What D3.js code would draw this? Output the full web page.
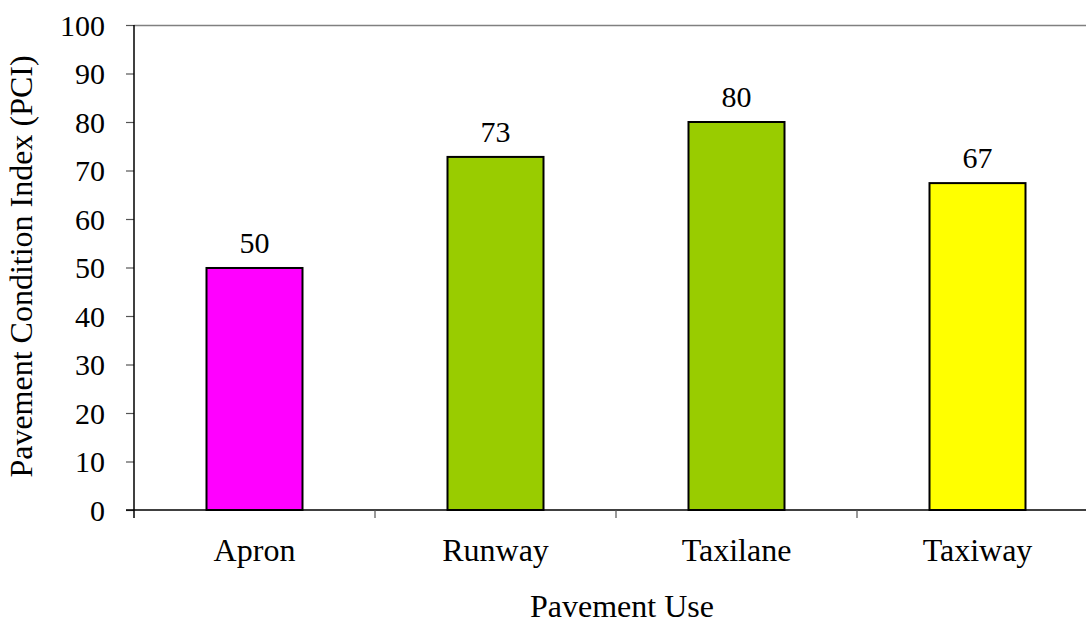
<!DOCTYPE html>
<html>
<head>
<meta charset="utf-8">
<script src="https://cdn.jsdelivr.net/npm/d3@7"></script>
<style>
  body { margin: 0; background: #fff; }
  text { font-family: "Liberation Serif", "Times New Roman", serif; fill: #000; }
</style>
</head>
<body>
<svg id="chart" width="1086" height="623"></svg>
<script>
// chart data
const categories = ["Apron", "Runway", "Taxilane", "Taxiway"];
const pciValues = [49.9, 72.8, 80.0, 67.4];
const valueLabels = ["50", "73", "80", "67"];
const barColors = ["#ff00ff", "#99cc00", "#99cc00", "#ffff00"];
const yTicks = [0, 10, 20, 30, 40, 50, 60, 70, 80, 90, 100];

const margin = {top: 25, left: 134, bottom: 113};
const svg = d3.select("#chart");
const plotW = 964, plotH = 485;
const fsNum = "30px", fsWord = "32px";

const g = svg.append("g").attr("transform", `translate(${margin.left},${margin.top})`);

const x = d3.scaleBand().domain(categories).range([0, plotW]).paddingInner(0).paddingOuter(0);
const y = d3.scaleLinear().domain([0, 100]).range([plotH, 0]);

// top border of the plot area
g.append("line")
  .attr("x1", 0).attr("x2", plotW + 10)
  .attr("y1", 0.5).attr("y2", 0.5)
  .attr("stroke", "#808080").attr("stroke-width", 1.3);

// y axis
const yAxis = g.append("g")
  .call(d3.axisLeft(y).tickValues(yTicks).tickSize(8).tickPadding(21));
yAxis.select(".domain").remove();
yAxis.selectAll(".tick line").attr("stroke", "#555").attr("stroke-width", 1.2);
yAxis.selectAll("text").style("font-size", fsNum).attr("dy", "0.34em");
g.append("line")
  .attr("x1", 0).attr("x2", 0).attr("y1", 0).attr("y2", plotH + 8)
  .attr("stroke", "#000").attr("stroke-width", 1.5);

// x axis: ticks at category boundaries
const xAxis = g.append("g").attr("transform", `translate(0,${plotH})`);
xAxis.append("line")
  .attr("x1", -8).attr("x2", plotW).attr("y1", 0).attr("y2", 0)
  .attr("stroke", "#000").attr("stroke-width", 1.5);
xAxis.selectAll(".bound")
  .data(categories.slice(1))
  .join("line")
  .attr("x1", d => x(d)).attr("x2", d => x(d))
  .attr("y1", 0).attr("y2", 8)
  .attr("stroke", "#555").attr("stroke-width", 1.2);
xAxis.selectAll(".cat")
  .data(categories)
  .join("text")
  .attr("x", d => x(d) + x.bandwidth() / 2)
  .attr("y", 51)
  .attr("text-anchor", "middle")
  .style("font-size", fsWord)
  .text(d => d);

// bars
const barW = 96;
g.selectAll(".bar")
  .data(categories)
  .join("rect")
  .attr("x", d => x(d) + x.bandwidth() / 2 - barW / 2)
  .attr("y", (d, i) => y(pciValues[i]))
  .attr("width", barW)
  .attr("height", (d, i) => plotH - y(pciValues[i]))
  .attr("fill", (d, i) => barColors[i])
  .attr("stroke", "#000")
  .attr("stroke-width", 2);

// value labels
g.selectAll(".val")
  .data(categories)
  .join("text")
  .attr("x", d => x(d) + x.bandwidth() / 2)
  .attr("y", (d, i) => y(pciValues[i]) - 15)
  .attr("text-anchor", "middle")
  .style("font-size", fsNum)
  .text((d, i) => valueLabels[i]);

// axis titles
svg.append("text")
  .attr("transform", `translate(32,${margin.top + plotH / 2 - 1}) rotate(-90)`)
  .attr("text-anchor", "middle")
  .style("font-size", fsWord)
  .text("Pavement Condition Index (PCI)");

svg.append("text")
  .attr("x", 622)
  .attr("y", 617)
  .attr("text-anchor", "middle")
  .style("font-size", fsWord)
  .text("Pavement Use");
</script>
</body>
</html>
